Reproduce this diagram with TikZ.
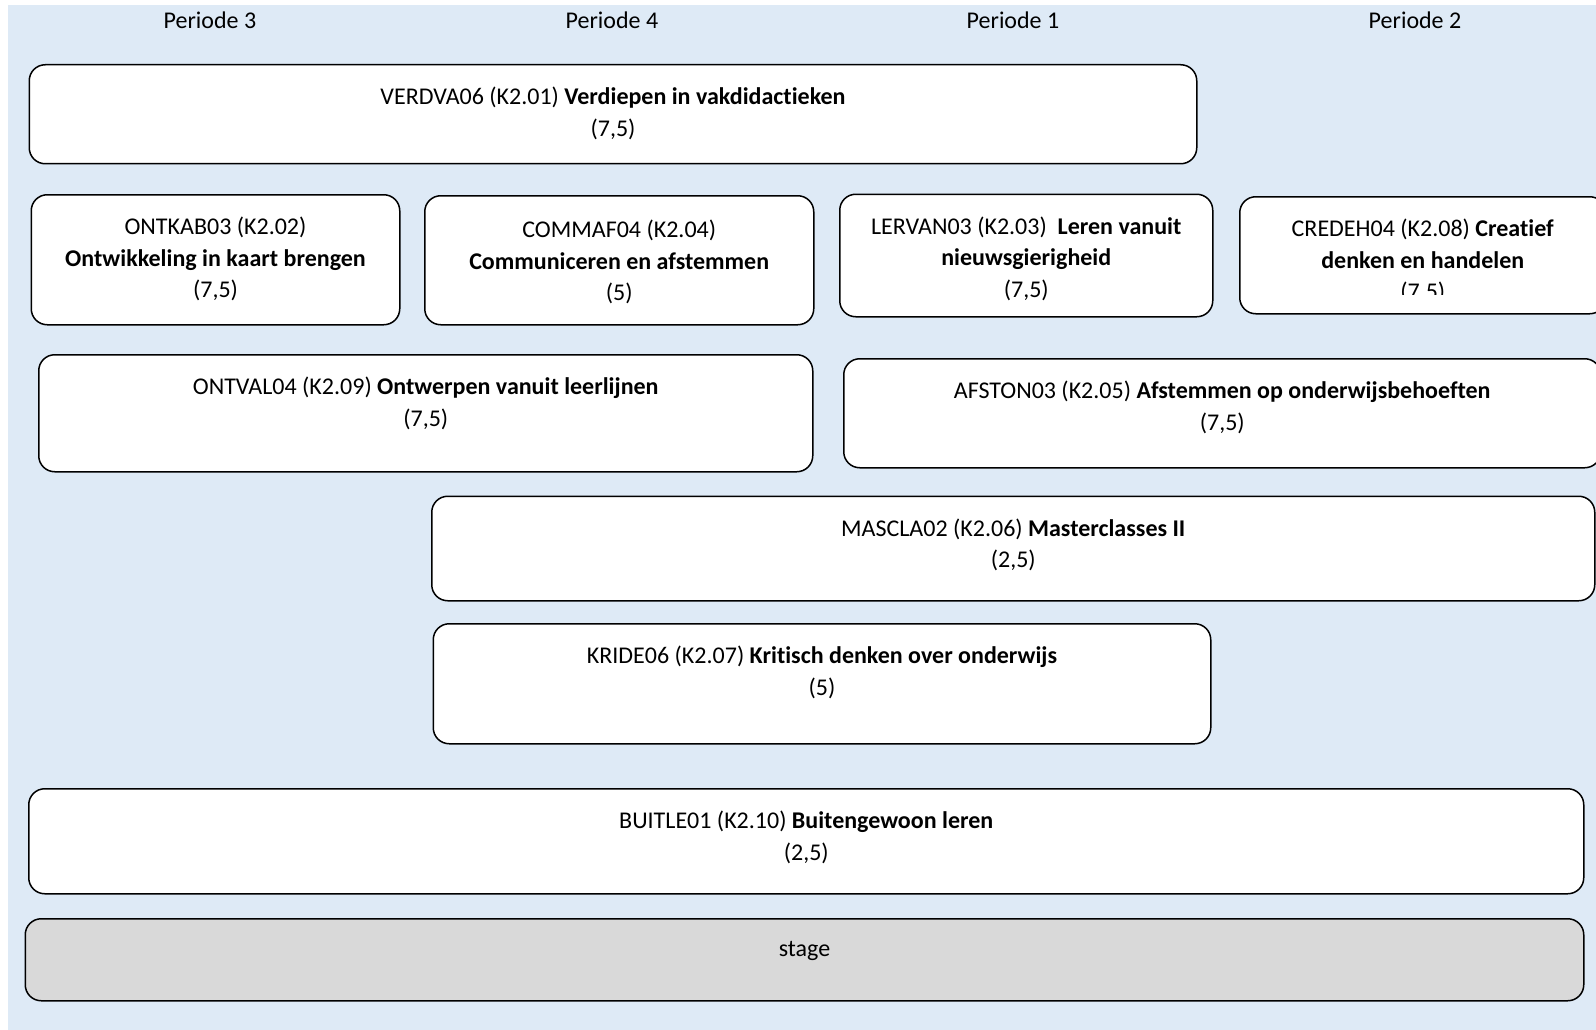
\documentclass[tikz,border=0pt]{standalone}
\usepackage{fontspec}
\setmainfont{Carlito}[Ligatures=NoCommon]
\usetikzlibrary{positioning}

\definecolor{achtergrond}{HTML}{DEEAF6}
\definecolor{stagegrijs}{HTML}{D9D9D9}

\tikzset{
  modbox/.style={draw=black, line width=1.5pt, rounded corners=16pt, fill=white, anchor=north west, inner sep=0pt},
  modtext/.style={align=center, inner sep=0pt, anchor=north, yshift=-23pt, text=black, font=\fontsize{24}{31.5}\selectfont},
  periode/.style={inner sep=0pt, text=black, font=\fontsize{24}{28}\selectfont},
}

\begin{document}
\begin{tikzpicture}[x=1pt, y=-1pt]
  \useasboundingbox (0,0) rectangle (1596,1030);
  \fill[achtergrond] (8,5) rectangle (1596,1030);

  % periodes
  \node[periode] (p3) at (210,20.5) {Periode 3};
  \node[periode] (p4) at (612,20.5) {Periode 4};
  \node[periode] (p1) at (1013,20.5) {Periode 1};
  \node[periode] (p2) at (1415,20.5) {Periode 2};

  % modules
  \node[modbox, minimum width=1167.5pt, minimum height=99pt] (verdva) at (28.5,64) {};
  \node[modtext] (verdva-t) at (verdva.north) {VERDVA06 (K2.01) \textbf{Verdiepen in vakdidactieken}\\(7,5)};

  \node[modbox, minimum width=368.5pt, minimum height=130pt] (ontkab) at (30.5,194) {};
  \node[modtext] (ontkab-t) at (ontkab.north) {ONTKAB03 (K2.02)\\\textbf{Ontwikkeling in kaart brengen}\\(7,5)};

  \node[modbox, minimum width=389pt, minimum height=129pt] (commaf) at (424,195) {};
  \node[modtext, yshift=-2pt] (commaf-t) at (commaf.north) {COMMAF04 (K2.04)\\\textbf{Communiceren en afstemmen}\\(5)};

  \node[modbox, minimum width=373pt, minimum height=122.5pt] (lervan) at (839,193.5) {};
  \node[modtext] (lervan-t) at (lervan.north) {LERVAN03 (K2.03)\ \ \textbf{Leren vanuit}\\\textbf{nieuwsgierigheid}\\(7,5)};

  \node[modbox, minimum width=366pt, minimum height=117pt] (credeh) at (1239,196) {};
  \begin{scope}
    \clip (credeh.north west) rectangle ([yshift=20pt]credeh.south east);
    \node[modtext] (credeh-t) at (credeh.north) {CREDEH04 (K2.08) \textbf{Creatief}\\\textbf{denken en handelen}\\(7.5)};
  \end{scope}

  \node[modbox, minimum width=774pt, minimum height=117pt] (ontval) at (38,354) {};
  \node[modtext] (ontval-t) at (ontval.north) {ONTVAL04 (K2.09) \textbf{Ontwerpen vanuit leerlijnen}\\(7,5)};

  \node[modbox, minimum width=757pt, minimum height=109pt] (afston) at (843,358) {};
  \node[modtext] (afston-t) at (afston.north) {AFSTON03 (K2.05) \textbf{Afstemmen op onderwijsbehoeften}\\(7,5)};

  \node[modbox, minimum width=1163pt, minimum height=104.5pt] (mascla) at (431,495.5) {};
  \node[modtext] (mascla-t) at (mascla.north) {MASCLA02 (K2.06) \textbf{Masterclasses II}\\(2,5)};

  \node[modbox, minimum width=777.5pt, minimum height=120pt] (kride) at (432.5,623) {};
  \node[modtext] (kride-t) at (kride.north) {KRIDE06 (K2.07) \textbf{Kritisch denken over onderwijs}\\(5)};

  \node[modbox, minimum width=1555pt, minimum height=105pt] (buitle) at (28,788) {};
  \node[modtext] (buitle-t) at (buitle.north) {BUITLE01 (K2.10) \textbf{Buitengewoon leren}\\(2,5)};

  \node[modbox, fill=stagegrijs, minimum width=1558.5pt, minimum height=82pt] (stage) at (24.5,918) {};
  \node[modtext] (stage-t) at (stage.north) {stage};
\end{tikzpicture}
\end{document}
